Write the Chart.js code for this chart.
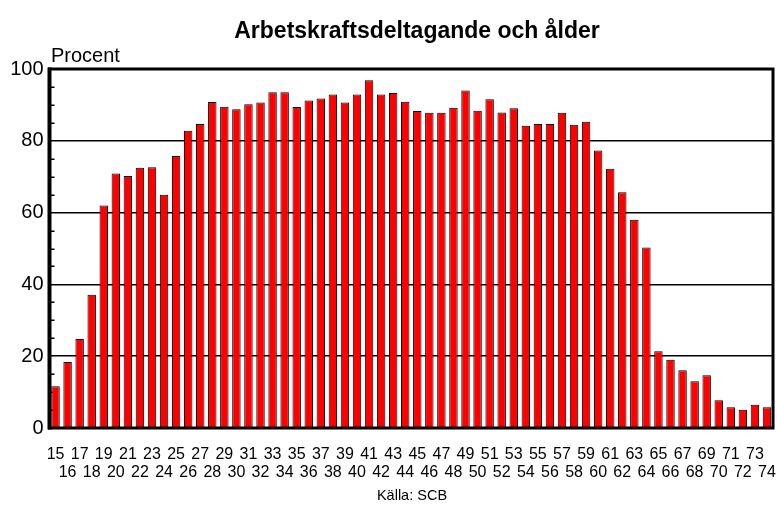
<!DOCTYPE html>
<html><head><meta charset="utf-8">
<script src="https://cdn.jsdelivr.net/npm/chart.js@4/dist/chart.umd.min.js"></script>
<style>html,body{margin:0;padding:0;background:#fff}#wrap{width:777px;height:505px}</style>
</head><body><div id="wrap"><canvas id="c" width="777" height="505"></canvas></div>
<script>
const ages = ['15','16','17','18','19','20','21','22','23','24','25','26','27','28','29','30','31','32','33','34','35','36','37','38','39','40','41','42','43','44','45','46','47','48','49','50','51','52','53','54','55','56','57','58','59','60','61','62','63','64','65','66','67','68','69','70','71','72','73','74'];
const values = [11.6,18.4,24.8,37.1,62.0,70.9,70.2,72.5,72.6,65.0,
  75.8,82.8,84.7,90.8,89.5,88.8,90.2,90.7,93.5,93.5,
  89.4,91.2,91.8,92.9,90.7,92.9,96.9,92.9,93.3,90.9,
  88.3,87.8,87.8,89.2,94.0,88.4,91.6,87.9,89.1,84.2,
  84.7,84.7,87.8,84.5,85.3,77.3,72.2,65.7,58.0,50.3,
  21.4,19.0,16.1,13.0,14.7,7.7,5.8,5.1,6.5,5.8];
const yTicks = [0,20,40,60,80,100];
const titleText = 'Arbetskraftsdeltagande och ålder';
const yLabel = 'Procent';
const sourceText = 'Källa: SCB';
const FONT = "'Liberation Sans', Arial, sans-serif";

const deco = {
  id: 'deco',
  beforeDatasetsDraw(chart) {
    const {ctx, chartArea: a, scales: {y}} = chart;
    ctx.save();
    ctx.strokeStyle = '#000';
    ctx.lineWidth = 1.5;
    for (let v = 5; v < 100; v += 5) {
      if (v % 20 === 0) continue;
      const py = Math.round(y.getPixelForValue(v)) + 0.25;
      ctx.beginPath(); ctx.moveTo(a.left, py); ctx.lineTo(a.left + 5, py); ctx.stroke();
    }
    ctx.restore();
  },
  afterDraw(chart) {
    const {ctx, chartArea: a} = chart;
    ctx.save();
    ctx.strokeStyle = '#000';
    ctx.lineWidth = 3;
    ctx.strokeRect(a.left, a.top, a.right - a.left, a.bottom - a.top);
    ctx.lineWidth = 4;
    ctx.beginPath(); ctx.moveTo(a.left, a.top - 1.5); ctx.lineTo(a.left, a.bottom + 1.5); ctx.stroke();
    ctx.fillStyle = '#000';
    ctx.textBaseline = 'alphabetic';
    ctx.font = 'bold 23px ' + FONT;
    ctx.textAlign = 'center';
    ctx.fillText(titleText, 417, 38);
    ctx.font = '20px ' + FONT;
    ctx.textAlign = 'left';
    ctx.fillText(yLabel, 51, 62);
    ctx.font = '14.5px ' + FONT;
    ctx.textAlign = 'center';
    ctx.fillText(sourceText, 412, 500);
    ctx.restore();
  }
};

new Chart(document.getElementById('c'), {
  type: 'bar',
  data: {
    labels: ages,
    datasets: [{
      data: values,
      backgroundColor: '#ff0000',
      borderColor: '#000',
      borderWidth: 1,
      barPercentage: 0.7,
      categoryPercentage: 1.0
    }]
  },
  options: {
    responsive: false,
    animation: false,
    devicePixelRatio: 1,
    layout: {padding: {left: 0, right: 4, top: 69, bottom: 0}},
    plugins: {legend: {display: false}, tooltip: {enabled: false}, title: {display: false}},
    scales: {
      x: {
        afterFit: s => { s.height = 77; s.paddingLeft = 0; s.paddingRight = 0; },
        grid: {display: false},
        border: {display: false},
        ticks: {
          autoSkip: false, maxRotation: 0, minRotation: 0,
          color: '#000', padding: 9,
          font: {family: FONT, size: 16, lineHeight: 1.15},
          callback: (v, i) => (i % 2 === 0 ? [ages[i], ''] : ['', ages[i]])
        }
      },
      y: {
        min: 0, max: 100,
        afterFit: s => { s.width = 49.5; s.paddingTop = 0; s.paddingBottom = 0; },
        afterBuildTicks: s => { s.ticks = yTicks.map(v => ({value: v})); },
        border: {display: false},
        grid: {
          drawTicks: false,
          color: c => (c.tick && c.tick.value > 0 && c.tick.value < 100 ? '#000' : 'rgba(0,0,0,0)'),
          lineWidth: 1.5
        },
        ticks: {color: '#000', padding: 6, font: {family: FONT, size: 20}}
      }
    }
  },
  plugins: [deco]
});
</script></body></html>
